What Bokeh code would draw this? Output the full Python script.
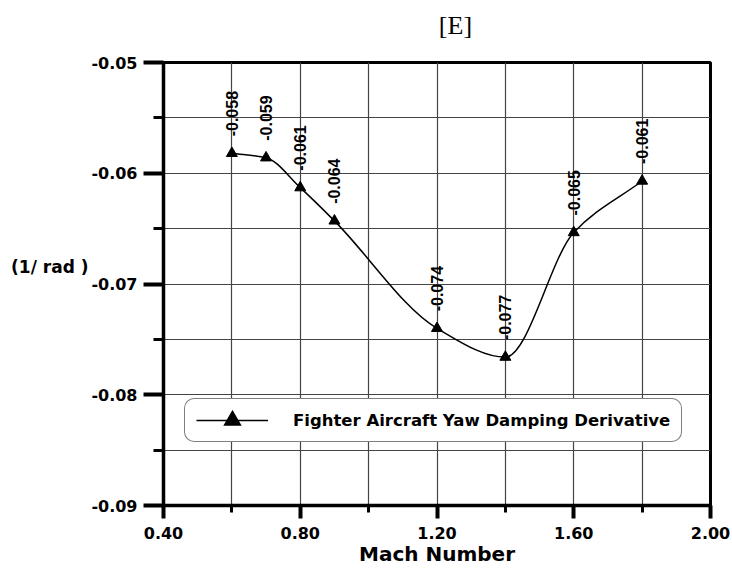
import numpy as np
from bokeh.plotting import figure
from bokeh.models import (Range1d, FixedTicker, NumeralTickFormatter, LinearAxis,
                          Legend, LegendItem)
from bokeh.embed import file_html
from bokeh.resources import INLINE
from bokeh.core.properties import value

# ---- data ----
mach = [0.6, 0.7, 0.8, 0.9, 1.2, 1.4, 1.6, 1.8]
yaw_damping = [-0.0582, -0.0586, -0.0613, -0.0643, -0.0740, -0.0766, -0.06535, -0.0607]
point_labels = ["-0.058", "-0.059", "-0.061", "-0.064", "-0.074", "-0.077", "-0.065", "-0.061"]
series_name = "Fighter Aircraft Yaw Damping Derivative"
title_text = "[E]"
x_label = "Mach Number"
y_label = "(1/ rad )"
x_ticks = [0.4, 0.8, 1.2, 1.6, 2.0]
x_minor_ticks = [0.6, 1.0, 1.4, 1.8]
y_ticks = [-0.09, -0.08, -0.07, -0.06, -0.05]
y_minor_ticks = [-0.085, -0.075, -0.065, -0.055]
title_at_x = 1.254      # where the "[E]" heading sits along the x scale
y_label_at_y = -0.0685  # where the "(1/ rad )" unit label sits along the y scale

BOLD_FONT = "DejaVu Sans"
GRID = "#444444"

p = figure(frame_width=547, frame_height=443,
           min_border_left=163, min_border_right=22,
           min_border_top=62, min_border_bottom=64,
           x_range=Range1d(x_ticks[0], x_ticks[-1]),
           y_range=Range1d(y_ticks[0], y_ticks[-1]),
           output_backend="svg", toolbar_location=None,
           background_fill_color="white", border_fill_color="white")
p.title.text = ""
p.title.visible = False

# outline
p.outline_line_color = "black"
p.outline_line_width = 3
p.outline_line_alpha = 1

# grids (major + minor positions)
for g, tk, mt in ((p.xgrid, x_ticks, x_minor_ticks), (p.ygrid, y_ticks, y_minor_ticks)):
    g.ticker = FixedTicker(ticks=tk, minor_ticks=mt)
    g.grid_line_color = GRID
    g.grid_line_width = 1.2
    g.minor_grid_line_color = GRID
    g.minor_grid_line_width = 1.2

# main axes
p.xaxis.ticker = FixedTicker(ticks=x_ticks, minor_ticks=x_minor_ticks)
p.yaxis.ticker = FixedTicker(ticks=y_ticks, minor_ticks=y_minor_ticks)
p.xaxis.formatter = NumeralTickFormatter(format="0.00")
p.yaxis.formatter = NumeralTickFormatter(format="0.00")
for ax in (p.xaxis[0], p.yaxis[0]):
    ax.axis_line_width = 3.5
    ax.axis_line_color = "black"
    ax.major_tick_in = 0
    ax.minor_tick_in = 0
    ax.major_tick_line_width = 4
    ax.minor_tick_line_width = 3
    ax.major_tick_line_color = "black"
    ax.minor_tick_line_color = "black"
    ax.major_label_text_font = BOLD_FONT
    ax.major_label_text_font_style = "bold"
    ax.major_label_text_font_size = "16px"
    ax.major_label_text_color = "black"
p.xaxis.major_tick_out = 13
p.xaxis.minor_tick_out = 7
p.xaxis.major_label_standoff = 8
p.xaxis.axis_label = x_label
p.xaxis.axis_label_standoff = 0
p.xaxis.axis_label_text_font = BOLD_FONT
p.xaxis.axis_label_text_font_style = "bold"
p.xaxis.axis_label_text_font_size = "20px"
p.xaxis.axis_label_text_color = "black"
p.yaxis.major_tick_out = 20
p.yaxis.minor_tick_out = 10
p.yaxis.major_label_standoff = 6


def text_axis(at, text, font, style, size, standoff):
    """An axis that only carries one horizontal text (no line, no ticks)."""
    ax = LinearAxis(ticker=FixedTicker(ticks=[at], minor_ticks=[]),
                    major_label_overrides={at: text})
    ax.axis_line_color = None
    ax.major_tick_line_color = None
    ax.minor_tick_line_color = None
    ax.major_tick_out = 0
    ax.major_tick_in = 0
    ax.major_label_standoff = standoff
    ax.major_label_text_font = font
    ax.major_label_text_font_style = style
    ax.major_label_text_font_size = size
    ax.major_label_text_color = "black"
    return ax


# unit label on the left, outside the value axis
p.add_layout(text_axis(y_label_at_y, y_label, BOLD_FONT, "bold", "17px", 0), "left")
# heading above the frame
p.add_layout(text_axis(title_at_x, title_text, "Liberation Serif", "normal", "26px", 23), "above")

# smooth, shape-preserving curve through the data (PCHIP tangents -> cubic Bezier)
xs = np.array(mach)
ys = np.array(yaw_damping)
h = np.diff(xs)
d = np.diff(ys) / h
m = np.zeros_like(ys)
m[0] = d[0]
m[-1] = d[-1]
for k in range(1, len(xs) - 1):
    if d[k - 1] * d[k] > 0:
        w1 = 2 * h[k] + h[k - 1]
        w2 = h[k] + 2 * h[k - 1]
        m[k] = (w1 + w2) / (w1 / d[k - 1] + w2 / d[k])
p.bezier(x0=xs[:-1], y0=ys[:-1], x1=xs[1:], y1=ys[1:],
         cx0=xs[:-1] + h / 3, cy0=ys[:-1] + m[:-1] * h / 3,
         cx1=xs[1:] - h / 3, cy1=ys[1:] - m[1:] * h / 3,
         line_color="black", line_width=1.5)

p.scatter(x=mach, y=yaw_damping, marker="triangle", size=11,
          fill_color="black", line_color="black")

# value labels, rotated
p.text(x=mach, y=yaw_damping, text=point_labels, angle=np.pi / 2,
       text_align="left", text_baseline="middle", y_offset=-17,
       text_font=value("Liberation Sans"), text_font_style="bold",
       text_font_size="16px", text_color="black")

# legend: its sample glyphs come from renderers on a range that keeps them off the frame
p.extra_y_ranges = {"legend_only": Range1d(1, 2)}
legend_line = p.line(x=mach, y=yaw_damping, line_color="black", line_width=1.5,
                     y_range_name="legend_only")
legend_marker = p.scatter(x=mach, y=yaw_damping, marker="triangle", size=11,
                          fill_color="black", line_color="black", line_width=6,
                          line_join="miter", y_range_name="legend_only")
legend = Legend(items=[LegendItem(label=series_name, renderers=[legend_line, legend_marker])],
                location=(21, 63), margin=0, padding=11, spacing=0,
                glyph_width=72, glyph_height=20, label_height=20,
                label_standoff=25,
                label_text_font=BOLD_FONT, label_text_font_style="bold",
                label_text_font_size="16.5px", label_text_color="black",
                border_line_color="black", border_line_width=1.5,
                background_fill_color="white", background_fill_alpha=1)
try:
    legend.border_radius = 10
except Exception:
    pass
p.add_layout(legend)

open("out.html", "w").write(file_html(p, INLINE))
